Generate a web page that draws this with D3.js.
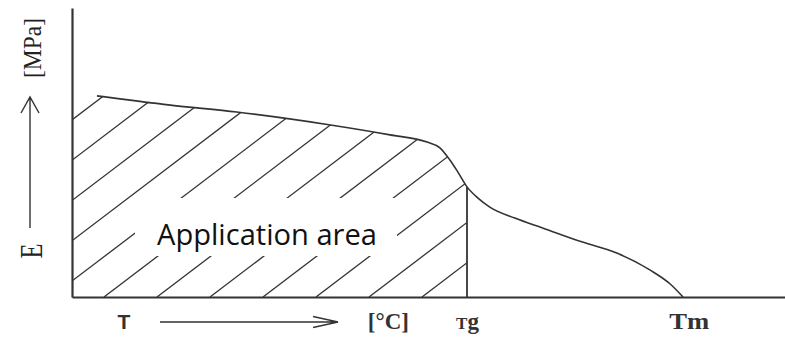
<!DOCTYPE html>
<html>
<head>
<meta charset="utf-8">
<script src="https://cdn.jsdelivr.net/npm/d3@7"></script>
<style>
  body { margin: 0; background: #fff; }
  svg { display: block; }
</style>
</head>
<body>
<div id="chart"></div>
<script>
// modulus curve E(T), arbitrary units
var temps   = [3.5, 13.8, 23.1, 35.8, 44.6, 49.8, 51.6, 53.0, 54.1, 55.4, 56.9, 58.6, 62.1, 66.0, 71.6, 76.4, 81.1, 83.9, 85.7];
var modulus = [69.6, 66.4, 64.0, 59.7, 56.1, 53.6, 51.6, 47.4, 43.3, 38.1, 34.3, 31.1, 27.3, 23.9, 19.0, 15.2, 9.3, 4.5, 0];

var tickTemps  = [7.2, 44.3, 55.4, 86.5];
var tickLabels = ["T", "[°C]", "Tg", "Tm"];

var Tg = 55.4;
var areaLabel = "Application area";

var W = 785, H = 338;
var ink = "#333";

var svg = d3.select("#chart").append("svg")
  .attr("width", W).attr("height", H);

var x = d3.scaleLinear().domain([0, 100]).range([72, 785]);
var y = d3.scaleLinear().domain([0, 100]).range([297, 8]);

var data = temps.map(function(t, i) { return {t: t, e: modulus[i]}; });

// region under the curve, left of Tg
var under = [{t: 0, e: modulus[0]}].concat(data.filter(function(d) { return d.t <= Tg; }));
var area = d3.area()
  .x(function(d) { return x(d.t); })
  .y0(y(0))
  .y1(function(d) { return y(d.e); })
  .curve(d3.curveMonotoneX);

svg.append("clipPath").attr("id", "appArea")
  .append("path").attr("d", area(under));

// hatching
var slope = 0.76, step = 53, start = 104;
var hatch = svg.append("g").attr("clip-path", "url(#appArea)");
d3.range(-7, 8).forEach(function(k) {
  var x0 = start + step * k;
  hatch.append("line")
    .attr("x1", x0).attr("y1", y(0))
    .attr("x2", x0 + 300).attr("y2", y(0) - 300 * slope)
    .attr("stroke", ink).attr("stroke-width", 1.3);
});

// white box behind the label
svg.append("rect")
  .attr("x", 135).attr("y", 198).attr("width", 262).attr("height", 58)
  .attr("fill", "#fff");

svg.append("text")
  .attr("x", 267).attr("y", 245)
  .attr("text-anchor", "middle")
  .attr("font-family", "'Open Sans', sans-serif")
  .attr("font-size", 30)
  .attr("textLength", 220)
  .attr("lengthAdjust", "spacingAndGlyphs")
  .attr("fill", "#111")
  .text(areaLabel);

// the curve
var line = d3.line()
  .x(function(d) { return x(d.t); })
  .y(function(d) { return y(d.e); })
  .curve(d3.curveMonotoneX);

svg.append("path")
  .datum(data)
  .attr("d", line)
  .attr("fill", "none")
  .attr("stroke", ink)
  .attr("stroke-width", 1.6);

// Tg line
var eTg = modulus[temps.indexOf(Tg)];
svg.append("line")
  .attr("x1", x(Tg)).attr("x2", x(Tg))
  .attr("y1", y(eTg)).attr("y2", y(0))
  .attr("stroke", ink).attr("stroke-width", 1.8);

// axes
var xAxis = svg.append("g")
  .attr("transform", "translate(0," + y(0) + ")")
  .call(d3.axisBottom(x).tickValues(tickTemps)
    .tickFormat(function(d, i) { return tickLabels[i]; })
    .tickSize(0).tickPadding(0));
xAxis.select(".domain").attr("stroke", ink).attr("stroke-width", 2.2);
xAxis.selectAll(".tick text")
  .attr("y", 32).attr("dy", null)
  .attr("font-family", "'Liberation Serif', serif")
  .attr("font-weight", "bold")
  .attr("font-size", 23)
  .attr("fill", "#333")
  .each(function(d, i) {
    var lab = tickLabels[i];
    var t = d3.select(this);
    if (lab === "T") t.attr("font-size", 21).attr("font-family", "'Liberation Sans', sans-serif");
    if (lab === "Tg") {
      t.text(null);
      t.append("tspan").attr("font-size", 17).text("T");
      t.append("tspan").attr("font-size", 23).text("g");
    }
    if (lab === "Tm") t.attr("font-size", 24).attr("textLength", 40).attr("lengthAdjust", "spacingAndGlyphs");
  });

var yAxis = svg.append("g")
  .attr("transform", "translate(" + x(0) + ",0)")
  .call(d3.axisLeft(y).tickValues([]).tickSizeOuter(0));
yAxis.select(".domain").attr("stroke", ink).attr("stroke-width", 2.2);

// T arrow
svg.append("path")
  .attr("d", "M160,322H338M313,316.5L338,322L313,327.5")
  .attr("fill", "none").attr("stroke", ink).attr("stroke-width", 1.4);

// E arrow
svg.append("path")
  .attr("d", "M30,228V97M21,113L30,97L39,113")
  .attr("fill", "none").attr("stroke", ink).attr("stroke-width", 1.4);

svg.append("text")
  .attr("transform", "translate(42,251) rotate(-90)")
  .attr("text-anchor", "middle")
  .attr("font-family", "'Liberation Serif', serif")
  .attr("font-size", 32)
  .attr("textLength", 15)
  .attr("lengthAdjust", "spacingAndGlyphs")
  .attr("fill", "#222")
  .text("E");

svg.append("text")
  .attr("transform", "translate(41,48) rotate(-90)")
  .attr("text-anchor", "middle")
  .attr("font-family", "'Liberation Serif', serif")
  .attr("font-size", 25)
  .attr("textLength", 60)
  .attr("lengthAdjust", "spacingAndGlyphs")
  .attr("fill", "#222")
  .text("[MPa]");
</script>
</body>
</html>
